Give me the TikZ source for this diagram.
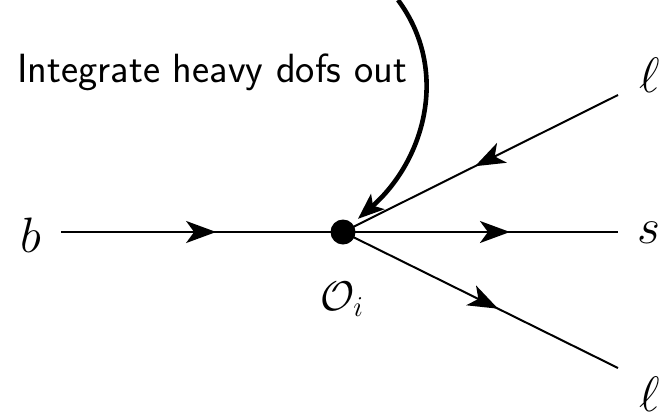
\documentclass[tikz,border=0pt]{standalone}
\usepackage{amsmath}
\usepackage{amssymb}
\usepackage{tikz}
\usetikzlibrary{
  arrows.meta,
  positioning,
  calc,
  decorations.markings
}

\begin{document}
\begin{tikzpicture}[x=0.5pt,y=-0.5pt,
  leg/.style={line width=1pt},
  midarrow/.style={postaction={decorate},
    decoration={markings,
      mark=at position #1 with {\arrow{Stealth[length=15pt,width=11pt,inset=4pt]}}}},
  extlabel/.style={inner sep=0pt, font=\fontsize{29}{34}\selectfont}]
  % Effective vertex with the heavy dofs integrated out
  \useasboundingbox (0,0) rectangle (663,418);
  \coordinate (vtx) at (343,232);
  \coordinate (bend) at (61,232);
  \coordinate (send) at (618,232);
  \coordinate (ltopend) at (618,95);
  \coordinate (lbotend) at (618,368);
  \coordinate (heavy) at (398,0);

  \draw[leg, midarrow=0.55] (bend) -- (vtx);
  \draw[leg, midarrow=0.607] (vtx) -- (send);
  \draw[leg, midarrow=0.52] (ltopend) -- (vtx);
  \draw[leg, midarrow=0.564] (vtx) -- (lbotend);
  \node[circle, fill, inner sep=0pt, minimum size=12.5pt] (dot) at (vtx) {};

  \draw[line width=2.3pt, -{Stealth[length=13pt,width=10pt,inset=3pt]}, shorten >=3.5pt]
    (heavy) .. controls (450,70) and (425,160) .. (dot);

  \node[extlabel, anchor=base east] (b) at (42,252) {$b$};
  \node[extlabel, anchor=base east] (s) at (661,243) {$s$};
  \node[extlabel, anchor=base east] (ltop) at (660,92) {$\ell$};
  \node[extlabel, anchor=base east] (lbot) at (660,411) {$\ell$};
  \node[inner sep=0pt, anchor=base west, font=\fontsize{20}{24}\selectfont] (op) at (320,310) {$\mathcal{O}_i$};
  \node[inner sep=0pt, anchor=base west, font=\sffamily\fontsize{20.4}{24}\selectfont] (note) at (17,82) {Integrate heavy dofs out};
\end{tikzpicture}
\end{document}
